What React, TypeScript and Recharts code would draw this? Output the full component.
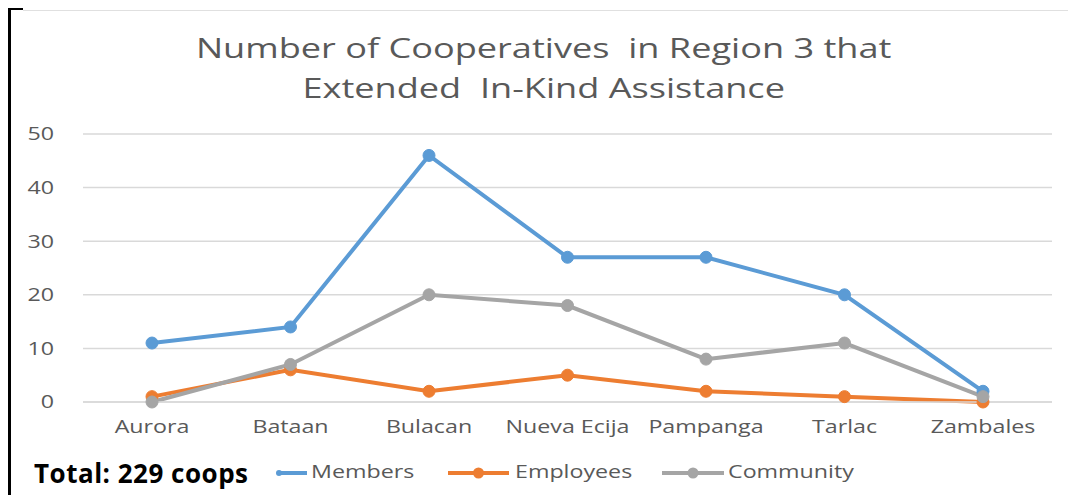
import React from 'react';
import { LineChart, Line, XAxis, YAxis, CartesianGrid, Legend } from 'recharts';

const provinces = ['Aurora', 'Bataan', 'Bulacan', 'Nueva Ecija', 'Pampanga', 'Tarlac', 'Zambales'];
const members = [11, 14, 46, 27, 27, 20, 2];
const employees = [1, 6, 2, 5, 2, 1, 0];
const community = [0, 7, 20, 18, 8, 11, 1];
const yTicks = [0, 10, 20, 30, 40, 50];
const totalLabel = 'Total: 229 coops';

const data = provinces.map((name, i) => ({
  name,
  members: members[i],
  employees: employees[i],
  community: community[i],
}));

const series = [
  { key: 'members', name: 'Members', color: '#5b9bd5' },
  { key: 'employees', name: 'Employees', color: '#ed7d31' },
  { key: 'community', name: 'Community', color: '#a5a5a5' },
];

const font = '"Open Sans", "Noto Sans", sans-serif';
// the source picture is stretched sideways, so text is widened to match
const stretch = 1.29;

function XTick(props: any) {
  const { x, y, payload } = props;
  return (
    <g transform={`translate(${x},${y})`}>
      <text x={0} y={0} dy="0.71em" textAnchor="middle" fill="#595959" fontSize={18} fontFamily={font} transform={`scale(${stretch},1)`}>
        {payload.value}
      </text>
    </g>
  );
}

function YTick(props: any) {
  const { x, y, payload } = props;
  return (
    <g transform={`translate(${x},${y})`}>
      <text x={0} y={0} dy="0.355em" textAnchor="end" fill="#595959" fontSize={18} fontFamily={font} transform={`scale(${stretch},1)`}>
        {payload.value}
      </text>
    </g>
  );
}

function LegendRow() {
  // x of each legend line (start, end) and text start, relative to the legend box
  const lines = [
    [256, 284, 288],
    [425, 486, 492],
    [639, 701, 705],
  ];
  return (
    <div style={{ position: 'relative', height: 50 }}>
      <div style={{ position: 'absolute', left: 11, top: 13, fontFamily: font, fontWeight: 700, fontSize: 26, letterSpacing: 0.5, color: '#000', whiteSpace: 'nowrap' }}>
        {totalLabel}
      </div>
      {series.map((s, i) => {
        const [a, b, t] = lines[i];
        return (
          <React.Fragment key={s.key}>
            <svg style={{ position: 'absolute', left: a - 3, top: 24 }} width={b - a + 6} height={14}>
              <line x1={3} y1={7} x2={b - a + 3} y2={7} stroke={s.color} strokeWidth={4} />
              <circle cx={i === 0 ? 3 : (b - a) / 2 + 3} cy={7} r={i === 0 ? 3 : 5.5} fill={s.color} />
            </svg>
            <span
              style={{
                position: 'absolute',
                left: t,
                top: 17,
                fontFamily: font,
                fontSize: 18,
                color: '#595959',
                whiteSpace: 'nowrap',
                display: 'inline-block',
                transform: `scaleX(${stretch})`,
                transformOrigin: 'left center',
              }}
            >
              {s.name}
            </span>
          </React.Fragment>
        );
      })}
    </div>
  );
}

export default function App() {
  return (
    <div style={{ position: 'relative', width: 1060, height: 487, borderLeft: '3px solid #000', boxSizing: 'border-box' }}>
      <div style={{ position: 'absolute', left: 0, top: 0, width: 12, height: 2, background: '#000' }} />
      <div style={{ position: 'absolute', left: 12, top: 2, right: 0, height: 1, background: '#e0e0e0' }} />
      <div
        style={{
          position: 'absolute',
          left: -3,
          width: 1076,
          top: 19,
          textAlign: 'center',
          fontFamily: font,
          fontSize: 28,
          lineHeight: '40px',
          color: '#595959',
          transform: `scaleX(${stretch})`,
          transformOrigin: '546px 0',
          whiteSpace: 'nowrap',
        }}
      >
        Number of Cooperatives&nbsp; in Region 3 that
        <br />
        Extended&nbsp; In-Kind Assistance
      </div>
      <LineChart
        width={1057}
        height={487}
        data={data}
        margin={{ top: 126, right: 16, left: 12, bottom: 0 }}
        style={{ fontFamily: font }}
      >
        <CartesianGrid vertical={false} stroke="#d9d9d9" strokeWidth={1.5} />
        <XAxis
          dataKey="name"
          axisLine={{ stroke: '#d9d9d9', strokeWidth: 1.5 }}
          tickLine={false}
          tick={<XTick />}
          tickMargin={12}
          padding={{ left: 69, right: 69 }}
          height={40}
        />
        <YAxis
          domain={[0, 50]}
          ticks={yTicks}
          axisLine={false}
          tickLine={false}
          tick={<YTick />}
          tickMargin={23}
          width={60}
        />
        <Legend verticalAlign="bottom" content={() => <LegendRow />} height={53} />
        {series.map((s) => (
          <Line
            key={s.key}
            type="linear"
            dataKey={s.key}
            name={s.name}
            stroke={s.color}
            strokeWidth={4}
            dot={{ r: 6, fill: s.color, stroke: s.color, strokeWidth: 1 }}
            activeDot={false}
            isAnimationActive={false}
          />
        ))}
      </LineChart>
    </div>
  );
}
